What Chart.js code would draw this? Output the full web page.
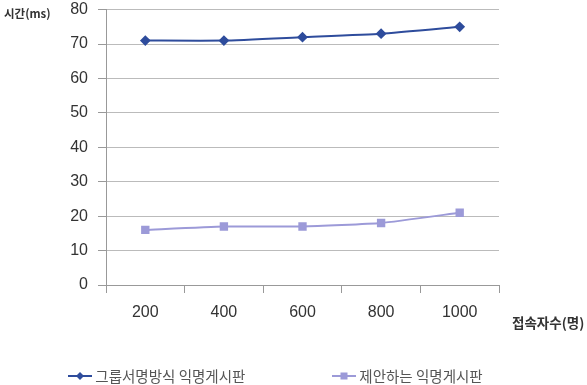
<!DOCTYPE html>
<html>
<head>
<meta charset="utf-8">
<script src="https://cdn.jsdelivr.net/npm/chart.js@4"></script>
<style>
	body { margin: 0; background: #fff; }
	#wrap { position: relative; width: 587px; height: 385px; overflow: hidden; }
	#chart { position: absolute; left: 0; top: -10px; }
	.label { position: absolute; font-family: "Noto Sans CJK KR", sans-serif; color: #333; white-space: nowrap; }
	#ytitle { left: 4px; top: 5px; font-size: 11.5px; font-weight: bold; }
	#xtitle { left: 512px; top: 312px; font-size: 13.5px; font-weight: bold; }
	#legend { position: absolute; left: 0; top: 366px; width: 550px; display: flex; justify-content: center; gap: 86px;
		font-family: "Noto Sans CJK KR", sans-serif; font-size: 14.5px; color: #555; line-height: 20px; }
	.item { display: flex; align-items: center; }
	.item canvas { margin-right: 2px; }
</style>
</head>
<body>
<div id="wrap">
	<canvas id="chart" width="587" height="395"></canvas>
	<div class="label" id="ytitle">시간(ms)</div>
	<div class="label" id="xtitle">접속자수(명)</div>
	<div id="legend"></div>
</div>
<script>
const categories = ["200", "400", "600", "800", "1000"];
const seriesNames = ["그룹서명방식 익명게시판", "제안하는 익명게시판"];
const groupSig = [71, 71, 72, 73, 75];
const proposed = [16, 17, 17, 18, 21];
const yTicks = [0, 10, 20, 30, 40, 50, 60, 70, 80];

const colors = ["#2E4C9C", "#9C9AD8"];
const markers = ["rectRot", "rect"];

const ctx = document.getElementById("chart");

new Chart(ctx, {
	type: 'line',
	data: {
		labels: categories,
		datasets: [
			{
				label: seriesNames[0],
				data: groupSig,
				borderColor: colors[0],
				backgroundColor: colors[0],
				borderWidth: 2,
				pointStyle: markers[0],
				pointRadius: 4,
				tension: 0.15
			},
			{
				label: seriesNames[1],
				data: proposed,
				borderColor: colors[1],
				backgroundColor: colors[1],
				borderWidth: 2,
				pointStyle: markers[1],
				pointRadius: 4.5,
				tension: 0.15
			}
		]
	},
	options: {
		responsive: false,
		animation: false,
		layout: { padding: { left: 0, top: 0, right: 88, bottom: 60 } },
		plugins: {
			legend: { display: false },
			tooltip: { enabled: false }
		},
		scales: {
			x: {
				offset: true,
				grid: { offset: true, drawOnChartArea: false, tickLength: 8, color: '#999' },
				border: { color: '#999' },
				ticks: { padding: 10, color: '#333', font: { family: 'Liberation Sans', size: 16 } },
				afterFit: s => { s.height = 40; }
			},
			y: {
				min: 0,
				max: 80,
				afterBuildTicks: s => { s.ticks = yTicks.map(v => ({ value: v })); },
				grid: { color: '#BBBBBB', tickLength: 8, tickColor: '#999' },
				border: { color: '#999' },
				ticks: { padding: 10, color: '#333', font: { family: 'Liberation Sans', size: 16 } },
				afterFit: s => { s.width = 106; }
			}
		}
	}
});

// legend with line + marker icons
const legend = document.getElementById("legend");
seriesNames.forEach((name, i) => {
	const item = document.createElement("div");
	item.className = "item";
	const icon = document.createElement("canvas");
	icon.width = 26;
	icon.height = 14;
	const g = icon.getContext("2d");
	g.strokeStyle = colors[i];
	g.fillStyle = colors[i];
	g.lineWidth = 2;
	g.beginPath();
	g.moveTo(1, 7);
	g.lineTo(25, 7);
	g.stroke();
	if (markers[i] === "rectRot") {
		g.beginPath();
		g.moveTo(13, 3); g.lineTo(17, 7); g.lineTo(13, 11); g.lineTo(9, 7);
		g.closePath();
		g.fill();
	} else {
		g.fillRect(9.5, 3.5, 7, 7);
	}
	const span = document.createElement("span");
	span.textContent = name;
	item.appendChild(icon);
	item.appendChild(span);
	legend.appendChild(item);
});
</script>
</body>
</html>
